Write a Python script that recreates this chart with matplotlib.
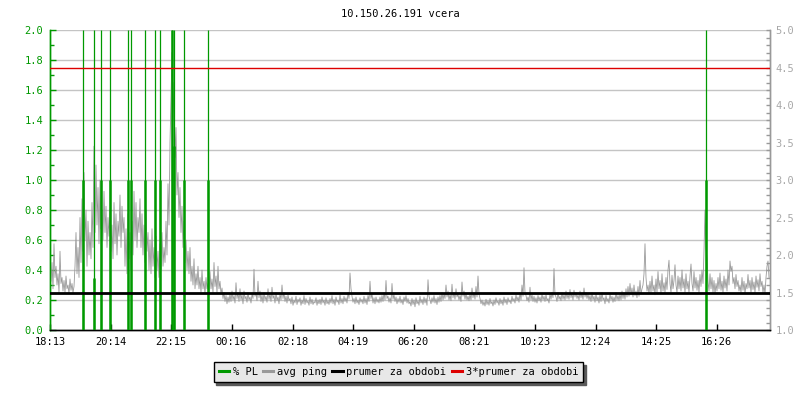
import numpy as np
import matplotlib
matplotlib.use("Agg")
import matplotlib.pyplot as plt
from matplotlib.lines import Line2D

title = "10.150.26.191 vcera"

# x axis: minutes since 18:13
tick_minutes = [0, 121, 242, 363, 485, 606, 727, 848, 970, 1091, 1212, 1333]
tick_labels = ["18:13", "20:14", "22:15", "00:16", "02:18", "04:19",
               "06:20", "08:21", "10:23", "12:24", "14:25", "16:26"]

# avg ping [ms], one value every 2 minutes, one row per hour
ping_ms = [
    2.0, 1.65, 1.9, 1.55, 2.15, 1.7, 1.85, 1.6, 1.75, 1.5, 2.05, 1.62, 1.7, 1.52, 1.66, 1.5, 1.72, 1.55, 1.6, 1.48, 1.68, 1.53, 1.62, 1.5, 1.58, 1.85, 2.3, 1.75, 2.1, 1.7,
    2.5, 1.9, 2.75, 2.05, 3.1, 2.2, 2.6, 1.85, 2.45, 2.0, 2.3, 1.95, 2.7, 2.1, 3.45, 2.3, 3.2, 2.4, 2.9, 2.15, 3.0, 2.35, 2.6, 2.2, 2.85, 2.3, 2.65, 2.1, 2.5, 2.25,
    2.6, 2.05, 2.4, 1.95, 2.7, 2.15, 2.55, 2.0, 2.45, 2.25, 2.8, 2.1, 2.65, 2.3, 2.5, 1.85, 2.35, 1.75, 2.55, 1.95, 2.3, 1.8, 2.45, 2.0, 2.85, 2.2, 2.7, 2.1, 2.5, 2.3,
    2.75, 2.1, 2.55, 2.0, 2.4, 1.9, 2.6, 2.05, 2.3, 1.8, 2.2, 1.75, 2.35, 1.85, 2.1, 1.7, 2.25, 1.8, 2.05, 1.7, 2.15, 1.8, 2.3, 1.85, 2.1, 1.9, 2.45, 2.0, 2.95, 2.4,
    3.5, 4.1, 4.7, 3.8, 4.3, 3.3, 3.7, 2.8, 3.1, 2.5, 2.9, 2.3, 2.65, 2.1, 2.45, 1.9, 2.2, 1.8, 2.05, 1.75, 2.1, 1.65, 1.85, 1.6, 1.95, 1.55, 1.75, 1.6, 1.85, 1.55,
    1.7, 1.5, 1.8, 1.55, 1.65, 1.48, 1.7, 1.55, 1.62, 1.5, 1.78, 1.55, 1.68, 1.5, 1.9, 1.58, 1.72, 1.5, 1.85, 1.55, 1.65, 1.48, 1.56, 1.42, 1.5, 1.38, 1.46, 1.35, 1.44, 1.37,
    1.48, 1.38, 1.52, 1.4, 1.46, 1.36, 1.63, 1.42, 1.5, 1.38, 1.55, 1.4, 1.47, 1.35, 1.52, 1.41, 1.45, 1.37, 1.5, 1.4, 1.44, 1.36, 1.48, 1.42, 1.81, 1.45, 1.5, 1.39, 1.65, 1.43,
    1.52, 1.38, 1.47, 1.36, 1.5, 1.4, 1.45, 1.37, 1.55, 1.41, 1.48, 1.38, 1.57, 1.42, 1.46, 1.36, 1.5, 1.39, 1.44, 1.35, 1.48, 1.4, 1.6, 1.42, 1.5, 1.38, 1.45, 1.36, 1.47, 1.39,
    1.42, 1.35, 1.44, 1.33, 1.4, 1.36, 1.45, 1.34, 1.41, 1.37, 1.43, 1.33, 1.4, 1.35, 1.46, 1.34, 1.42, 1.36, 1.39, 1.33, 1.44, 1.35, 1.41, 1.34, 1.38, 1.36, 1.43, 1.33, 1.4, 1.35,
    1.41, 1.34, 1.44, 1.36, 1.4, 1.33, 1.43, 1.35, 1.39, 1.34, 1.42, 1.36, 1.46, 1.35, 1.41, 1.33, 1.44, 1.37, 1.4, 1.34, 1.47, 1.36, 1.42, 1.35, 1.45, 1.38, 1.43, 1.36, 1.5, 1.42,
    1.76, 1.55, 1.45, 1.37, 1.42, 1.35, 1.44, 1.36, 1.4, 1.34, 1.43, 1.37, 1.41, 1.35, 1.45, 1.36, 1.42, 1.34, 1.46, 1.38, 1.65, 1.42, 1.48, 1.36, 1.43, 1.35, 1.44, 1.37, 1.41, 1.36,
    1.44, 1.37, 1.46, 1.38, 1.5, 1.4, 1.66, 1.42, 1.45, 1.37, 1.43, 1.36, 1.62, 1.41, 1.47, 1.38, 1.44, 1.35, 1.42, 1.37, 1.45, 1.36, 1.41, 1.34, 1.44, 1.38, 1.46, 1.36, 1.42, 1.35,
    1.38, 1.32, 1.42, 1.34, 1.4, 1.31, 1.43, 1.35, 1.39, 1.33, 1.45, 1.36, 1.41, 1.34, 1.44, 1.36, 1.42, 1.33, 1.67, 1.45, 1.4, 1.35, 1.43, 1.37, 1.46, 1.36, 1.42, 1.34, 1.44, 1.37,
    1.46, 1.38, 1.5, 1.4, 1.48, 1.42, 1.6, 1.44, 1.52, 1.4, 1.47, 1.39, 1.61, 1.43, 1.5, 1.41, 1.55, 1.44, 1.48, 1.4, 1.46, 1.38, 1.64, 1.45, 1.52, 1.41, 1.49, 1.4, 1.45, 1.39,
    1.48, 1.4, 1.56, 1.43, 1.5, 1.41, 1.58, 1.44, 1.72, 1.48, 1.42, 1.35, 1.4, 1.33, 1.38, 1.32, 1.41, 1.34, 1.39, 1.33, 1.42, 1.35, 1.38, 1.32, 1.4, 1.34, 1.43, 1.36, 1.39, 1.33,
    1.42, 1.35, 1.4, 1.33, 1.44, 1.36, 1.41, 1.34, 1.43, 1.37, 1.4, 1.35, 1.45, 1.38, 1.42, 1.36, 1.47, 1.39, 1.44, 1.37, 1.5, 1.4, 1.6, 1.45, 1.83, 1.5, 1.46, 1.39, 1.44, 1.37,
    1.57, 1.4, 1.47, 1.38, 1.45, 1.37, 1.43, 1.36, 1.46, 1.39, 1.44, 1.37, 1.48, 1.4, 1.45, 1.38, 1.47, 1.39, 1.42, 1.36, 1.48, 1.41, 1.5, 1.43, 1.82, 1.47, 1.44, 1.38, 1.5, 1.41,
    1.45, 1.39, 1.5, 1.41, 1.47, 1.4, 1.52, 1.42, 1.48, 1.41, 1.54, 1.43, 1.49, 1.4, 1.53, 1.44, 1.5, 1.42, 1.47, 1.4, 1.52, 1.43, 1.49, 1.41, 1.56, 1.44, 1.5, 1.42, 1.48, 1.4,
    1.46, 1.38, 1.5, 1.4, 1.45, 1.37, 1.48, 1.39, 1.44, 1.36, 1.47, 1.38, 1.5, 1.4, 1.43, 1.35, 1.46, 1.38, 1.42, 1.36, 1.48, 1.4, 1.45, 1.37, 1.44, 1.38, 1.5, 1.4, 1.46, 1.39,
    1.48, 1.4, 1.52, 1.42, 1.5, 1.41, 1.55, 1.44, 1.58, 1.45, 1.62, 1.47, 1.56, 1.44, 1.6, 1.46, 1.52, 1.43, 1.58, 1.45, 1.66, 1.48, 1.55, 1.6, 1.75, 2.15, 1.7, 1.52, 1.6, 1.48,
    1.65, 1.5, 1.72, 1.52, 1.6, 1.47, 1.68, 1.5, 1.78, 1.55, 1.66, 1.48, 1.75, 1.52, 1.63, 1.5, 1.7, 1.54, 1.8, 1.93, 1.62, 1.5, 1.73, 1.55, 1.66, 1.87, 1.6, 1.5, 1.72, 1.55,
    1.7, 1.52, 1.8, 1.56, 1.68, 1.5, 1.75, 1.55, 1.65, 1.5, 1.72, 1.88, 1.62, 1.52, 1.78, 1.56, 1.7, 1.53, 1.66, 1.5, 1.74, 1.58, 1.8, 1.62, 2.05, 2.6, 2.1, 1.95, 1.65, 1.52,
    1.75, 1.55, 1.7, 1.5, 1.66, 1.48, 1.62, 1.52, 1.7, 1.55, 1.76, 1.53, 1.65, 1.5, 1.72, 1.56, 1.68, 1.52, 1.8, 1.6, 1.92, 1.78, 1.85, 1.62, 1.7, 1.55, 1.74, 1.58, 1.66, 1.52,
    1.6, 1.5, 1.7, 1.53, 1.65, 1.48, 1.62, 1.55, 1.74, 1.56, 1.66, 1.5, 1.7, 1.54, 1.64, 1.5, 1.72, 1.57, 1.67, 1.52, 1.75, 1.58, 1.65, 1.5, 1.6, 1.48, 1.7, 1.85, 1.92, 1.7,
]
ping_step = 2  # minutes between samples

# packet loss events: minute, averaged % PL, peak % PL
pl_minutes = [65, 87, 101, 119, 156, 161, 189, 209, 220, 243, 247, 268, 316, 1312]
pl_avg = [1.0, 0.35, 1.0, 1.0, 1.0, 1.0, 1.0, 1.0, 1.0, 2.0, 1.23, 1.0, 1.0, 1.0]
pl_peak = [100] * len(pl_minutes)

ping_mean = 1.5
ping_mean3 = 4.5

GREEN = "#009900"
GRAY = "#999999"
GRID = "#c4c4c4"
RED = "#dd0000"

plt.rcParams["font.family"] = ["DejaVu Sans Mono"]
plt.rcParams["font.size"] = 7.5

fig = plt.figure(figsize=(8, 4), dpi=100)
ax = fig.add_axes([50 / 800, 70 / 400, 720 / 800, 300 / 400])
ax2 = ax.twinx()

ax.set_xlim(0, 1440)
ax.set_ylim(0, 2.0)
ax2.set_ylim(1.0, 5.0)

# grid on the left scale, behind everything
for g in np.arange(0.2, 2.01, 0.2):
    ax.axhline(g, color=GRID, lw=1, zorder=0)

t = np.arange(len(ping_ms)) * ping_step
ax2.plot(t, ping_ms, color=GRAY, lw=0.6, zorder=2)

# packet loss drawn in left-axis units but above the ping line
ax2.vlines(pl_minutes, 0, np.minimum(pl_peak, 2.0), color=GREEN, lw=0.9,
           transform=ax.transData, zorder=3)
ax2.vlines(pl_minutes, 0, np.minimum(pl_avg, 2.0), color=GREEN, lw=1.8,
           transform=ax.transData, zorder=3)

ax2.axhline(ping_mean, color="black", lw=2.0, zorder=4)
ax2.axhline(ping_mean3, color=RED, lw=1.0, zorder=4)

ax.set_xticks(tick_minutes)
ax.set_xticklabels(tick_labels)
ax.set_yticks(np.arange(0, 2.01, 0.2))
ax.set_yticklabels(["%.1f" % v for v in np.arange(0, 2.01, 0.2)])
ax.set_yticks(np.arange(0, 2.01, 0.1), minor=True)
ax2.set_yticks(np.arange(1.0, 5.01, 0.5))
ax2.set_yticklabels(["%.1f" % v for v in np.arange(1.0, 5.01, 0.5)])
ax2.set_yticks(np.arange(1.0, 5.01, 0.1), minor=True)

ax.tick_params(axis="x", direction="in", length=4, width=1, color="black",
               labelcolor="black", pad=5)
ax.tick_params(axis="y", which="both", direction="in", color=GREEN,
               labelcolor=GREEN, width=1, pad=5)
ax.tick_params(axis="y", which="major", length=4)
ax.tick_params(axis="y", which="minor", length=3)
ax2.tick_params(axis="y", which="both", direction="in", color=GRAY,
                labelcolor="#a8a8a8", width=1, length=3, pad=4)

for a in (ax, ax2):
    a.spines["top"].set_visible(False)
    a.spines["left"].set_color(GREEN)
    a.spines["right"].set_color(GRAY)
    a.spines["bottom"].set_color("black")
    for s in a.spines.values():
        s.set_linewidth(1)

fig.text(0.5, 1 - 14 / 400, title, ha="center", va="center", color="black")

handles = [Line2D([], [], color=c, lw=2.2) for c in (GREEN, GRAY, "black", RED)]
labels = ["% PL", "avg ping", "prumer za obdobi", "3*prumer za obdobi"]
leg = fig.legend(handles, labels, loc="center", bbox_to_anchor=(0.498, 0.07),
                 ncol=4, fancybox=False, handlelength=1.0, handletextpad=0.35,
                 columnspacing=0.5, borderpad=0.5, edgecolor="black",
                 facecolor="#e8e8e8", framealpha=1,
                 shadow={"color": "#5a5a5a", "alpha": 1})
leg.get_frame().set_linewidth(1)

fig.savefig("out.png", dpi=100, facecolor="white")
